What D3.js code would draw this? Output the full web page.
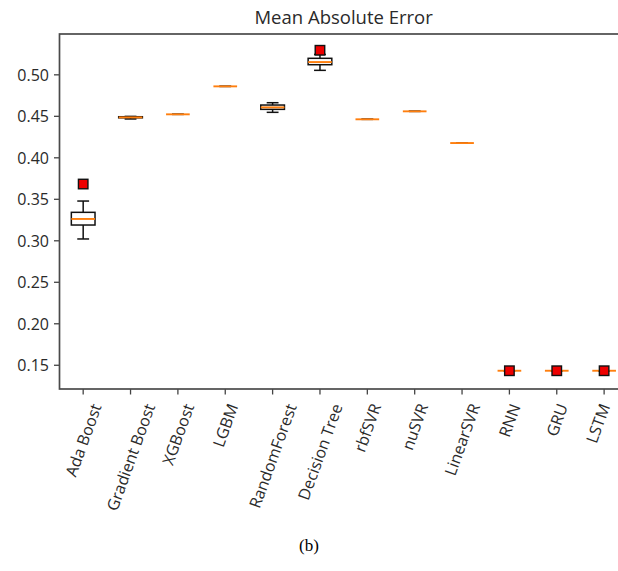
<!DOCTYPE html>
<html>
<head>
<meta charset="utf-8">
<script src="https://cdn.jsdelivr.net/npm/d3@7"></script>
<style>
  body { margin: 0; background: #fff; }
  svg { display: block; }
</style>
</head>
<body>
<svg id="chart" width="618" height="571"></svg>
<script>
// ---- data ----
const models   = ["Ada Boost", "Gradient Boost", "XGBoost", "LGBM", "RandomForest", "Decision Tree",
                  "rbfSVR", "nuSVR", "LinearSVR", "RNN", "GRU", "LSTM"];
const whiskLow = [0.3016, 0.4462, 0.4518, 0.4855, 0.4542, 0.5048, 0.4458, 0.4554, 0.4172, 0.1428, 0.1428, 0.1428];
const q1       = [0.3184, 0.4476, 0.4518, 0.4855, 0.4578, 0.5116, 0.4458, 0.4554, 0.4172, 0.1428, 0.1428, 0.1428];
const median   = [0.3257, 0.4481, 0.4518, 0.4855, 0.4602, 0.5148, 0.4458, 0.4554, 0.4172, 0.1428, 0.1428, 0.1428];
const q3       = [0.3337, 0.4489, 0.4518, 0.4855, 0.4630, 0.5193, 0.4458, 0.4554, 0.4172, 0.1428, 0.1428, 0.1428];
const whiskHigh= [0.3473, 0.4493, 0.4518, 0.4855, 0.4658, 0.5240, 0.4458, 0.4554, 0.4172, 0.1428, 0.1428, 0.1428];
const outliers = [[0.3678], [], [], [], [], [0.5290], [], [], [], [0.1428], [0.1428], [0.1428]];
const yTicks   = [0.15, 0.20, 0.25, 0.30, 0.35, 0.40, 0.45, 0.50];
const yDomain  = [0.1208, 0.5486];
const title    = "Mean Absolute Error";
const caption  = "(b)";

// ---- layout ----
const svg = d3.select("#chart");
const m = { left: 59.5, top: 34, bottom: 389 };
const plotRight = 627.8;

const x = d3.scaleBand().domain(models).range([m.left, plotRight]).paddingInner(0).paddingOuter(0);
const y = d3.scaleLinear().domain(yDomain).range([m.bottom, m.top]);
const cx = d => x(d) + x.bandwidth() / 2;
const boxW = x.bandwidth() * 0.5;
const capW = boxW * 0.5;

const tickFont = "'Open Sans', sans-serif";
const tickSize = 16;
const textCol = "#2a2a2a";

// y axis
const yAxis = svg.append("g")
  .attr("transform", `translate(${m.left},0)`)
  .call(d3.axisLeft(y).tickValues(yTicks).tickFormat(d3.format(".2f")).tickSize(5.5).tickPadding(5));
yAxis.select(".domain").remove();
yAxis.selectAll("line").attr("stroke", "#444").attr("stroke-width", 1.3);
yAxis.selectAll("text").attr("font-family", tickFont).attr("font-size", tickSize).attr("fill", textCol)
  .attr("dy", "0.36em");

// x axis
const xAxis = svg.append("g")
  .attr("transform", `translate(0,${m.bottom})`)
  .call(d3.axisBottom(x).tickSize(5.5).tickPadding(5));
xAxis.select(".domain").remove();
xAxis.selectAll("line").attr("stroke", "#444").attr("stroke-width", 1.3);
xAxis.selectAll("text")
  .attr("font-family", tickFont).attr("font-size", tickSize).attr("fill", textCol)
  .attr("text-anchor", "middle").attr("dominant-baseline", "central")
  .each(function () {
    const t = d3.select(this);
    const w = this.getComputedTextLength();
    const h = tickSize * 1.2;
    const a = 70 * Math.PI / 180;
    const ext = w * Math.sin(a) + h * Math.cos(a);
    t.attr("y", null).attr("dy", null)
     .attr("transform", `translate(0,${12 + ext / 2}) rotate(-70)`);
    // keep the label inside the picture
    const r = this.getBoundingClientRect();
    const over = r.right - 615;
    if (over > 0) t.attr("transform", `translate(${-over},${12 + ext / 2}) rotate(-70)`);
  });

// frame (spines)
svg.append("rect")
  .attr("x", m.left).attr("y", m.top)
  .attr("width", plotRight - m.left).attr("height", m.bottom - m.top)
  .attr("fill", "none").attr("stroke", "#4a4a4a").attr("stroke-width", 1.7);

// boxes
const g = svg.append("g");
models.forEach((name, i) => {
  const c = cx(name);
  const stroke = "#111", sw = 1.5;
  g.append("rect")
    .attr("x", c - boxW / 2).attr("y", y(q3[i]))
    .attr("width", boxW).attr("height", Math.max(0, y(q1[i]) - y(q3[i])))
    .attr("fill", "none").attr("stroke", stroke).attr("stroke-width", sw);
  g.append("line").attr("x1", c).attr("x2", c).attr("y1", y(q1[i])).attr("y2", y(whiskLow[i]))
    .attr("stroke", stroke).attr("stroke-width", sw);
  g.append("line").attr("x1", c).attr("x2", c).attr("y1", y(q3[i])).attr("y2", y(whiskHigh[i]))
    .attr("stroke", stroke).attr("stroke-width", sw);
  [whiskLow[i], whiskHigh[i]].forEach(v => {
    g.append("line").attr("x1", c - capW / 2).attr("x2", c + capW / 2).attr("y1", y(v)).attr("y2", y(v))
      .attr("stroke", stroke).attr("stroke-width", sw);
  });
  g.append("line").attr("x1", c - boxW / 2).attr("x2", c + boxW / 2)
    .attr("y1", y(median[i])).attr("y2", y(median[i]))
    .attr("stroke", "#ff7f0e").attr("stroke-width", 1.9);
  outliers[i].forEach(v => {
    const s = 9.5;
    g.append("rect").attr("x", c - s / 2).attr("y", y(v) - s / 2).attr("width", s).attr("height", s)
      .attr("fill", "#ee0000").attr("stroke", "#111").attr("stroke-width", 1.4);
  });
});

// title
svg.append("text")
  .attr("x", (m.left + plotRight) / 2).attr("y", 24)
  .attr("text-anchor", "middle")
  .attr("font-family", tickFont).attr("font-size", 18.5).attr("fill", textCol)
  .text(title);

// caption
svg.append("text")
  .attr("x", 309).attr("y", 551)
  .attr("text-anchor", "middle")
  .attr("font-family", "'Liberation Serif', 'Times New Roman', serif").attr("font-size", 17).attr("fill", "#000")
  .text(caption);
</script>
</body>
</html>
